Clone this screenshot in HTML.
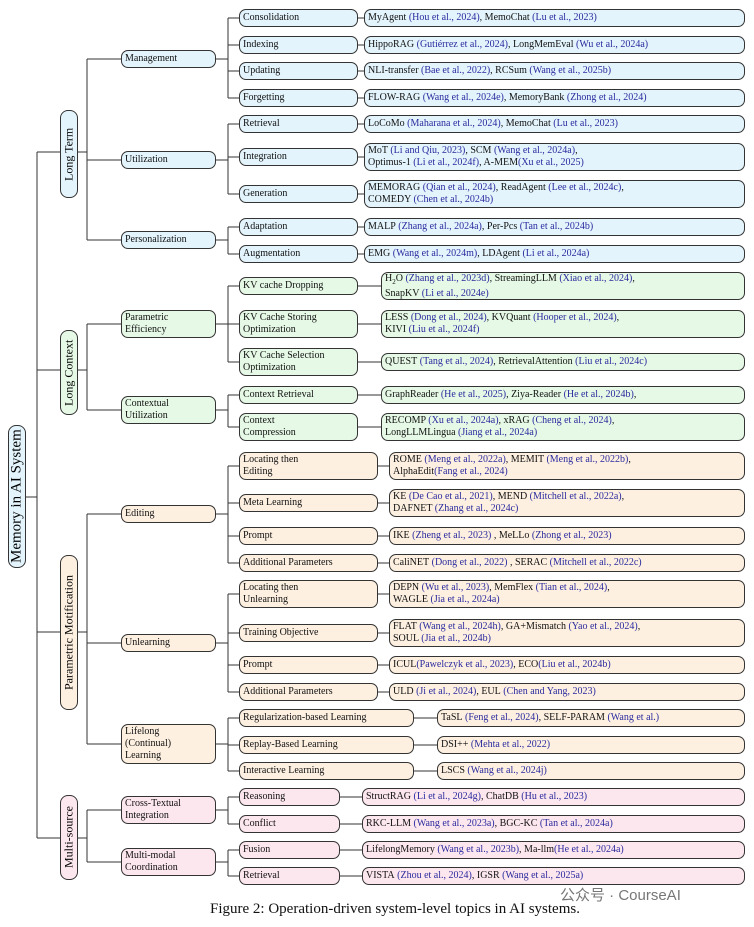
<!DOCTYPE html>
<html><head><meta charset="utf-8"><style>
body{margin:0;width:754px;height:927px;background:#fff;position:relative;overflow:hidden;font-family:"Liberation Serif",serif;}
.b{position:absolute;border:1px solid #333;border-radius:7px;font-size:10px;line-height:12px;padding:2px 3px;box-sizing:border-box;color:#111;white-space:nowrap;display:flex;align-items:center;}
.h1{height:18px}.h2{height:28px}
.bl{background:#e3f4fc}.gr{background:#e6f9e6}.or{background:#fdf0e1}.pk{background:#fde7ee}
.c{color:#2a2a9e}
.v{position:absolute;border:1px solid #333;border-radius:8px;box-sizing:border-box;writing-mode:vertical-rl;transform:rotate(180deg);display:flex;align-items:center;justify-content:center;font-size:12px;white-space:nowrap;}
svg{position:absolute;left:0;top:0}
</style></head><body>
<svg width="754" height="927" stroke="#333" stroke-width="1" fill="none">
<path d="M26 497H37M37 152V838M37 152H60M37 370H60M37 632H60M37 838H60"/>
<path d="M78 152H87M87 59V240M87 59H121M87 160H121M87 240H121"/>
<path d="M78 370H87M87 324V410M87 324H121M87 410H121"/>
<path d="M78 632H87M87 514V744M87 514H121M87 643H121M87 744H121"/>
<path d="M78 838H87M87 810V862M87 810H121M87 862H121"/>
<path d="M216 59H228M228 18V98M228 18H239M228 45H239M228 71H239M228 98H239"/>
<path d="M216 160H228M228 124V194M228 124H239M228 157H239M228 194H239"/>
<path d="M216 240H228M228 227V254M228 227H239M228 254H239"/>
<path d="M216 324H228M228 286V362M228 286H239M228 324H239M228 362H239"/>
<path d="M216 410H228M228 395V427M228 395H239M228 427H239"/>
<path d="M216 514H228M228 466V563M228 466H239M228 503H239M228 536H239M228 563H239"/>
<path d="M216 643H228M228 594V692M228 594H239M228 633H239M228 665H239M228 692H239"/>
<path d="M216 744H228M228 718V771M228 718H239M228 745H239M228 771H239"/>
<path d="M216 810H228M228 797V824M228 797H239M228 824H239"/>
<path d="M216 862H228M228 850V876M228 850H239M228 876H239"/>
<path d="M358 18H364M358 45H364M358 71H364M358 98H364M358 124H364M358 157H364M358 194H364M358 227H364M358 254H364"/>
<path d="M358 286H381M358 324H381M358 362H381M358 395H381M358 427H381"/>
<path d="M378 466H389M378 503H389M378 536H389M378 563H389M378 594H389M378 633H389M378 665H389M378 692H389"/>
<path d="M414 718H437M414 745H437M414 771H437"/>
<path d="M340 797H362M340 824H362M340 850H362M340 876H362"/>
</svg>

<div class="v bl" style="left:8px;top:425px;width:18px;height:143px;font-size:15px">Memory in AI System</div>
<div class="v bl" style="left:60px;top:110px;width:18px;height:88px">Long Term</div>
<div class="v gr" style="left:60px;top:330px;width:18px;height:85px">Long Context</div>
<div class="v or" style="left:60px;top:555px;width:18px;height:155px">Parametric Motification</div>
<div class="v pk" style="left:60px;top:795px;width:18px;height:85px">Multi-source</div>

<div class="b h1 bl" style="left:121px;top:50px;width:95px">Management</div>
<div class="b h1 bl" style="left:121px;top:151px;width:95px">Utilization</div>
<div class="b h1 bl" style="left:121px;top:231px;width:95px">Personalization</div>
<div class="b h2 gr" style="left:121px;top:310px;width:95px">Parametric<br>Efficiency</div>
<div class="b h2 gr" style="left:121px;top:396px;width:95px">Contextual<br>Utilization</div>
<div class="b h1 or" style="left:121px;top:505px;width:95px">Editing</div>
<div class="b h1 or" style="left:121px;top:634px;width:95px">Unlearning</div>
<div class="b or" style="left:121px;top:724px;width:95px;height:40px">Lifelong<br>(Continual)<br>Learning</div>
<div class="b h2 pk" style="left:121px;top:796px;width:95px">Cross-Textual<br>Integration</div>
<div class="b h2 pk" style="left:121px;top:848px;width:95px">Multi-modal<br>Coordination</div>

<div class="b h1 bl" style="left:239px;top:9px;width:119px">Consolidation</div>
<div class="b h1 bl" style="left:239px;top:36px;width:119px">Indexing</div>
<div class="b h1 bl" style="left:239px;top:62px;width:119px">Updating</div>
<div class="b h1 bl" style="left:239px;top:89px;width:119px">Forgetting</div>
<div class="b h1 bl" style="left:239px;top:115px;width:119px">Retrieval</div>
<div class="b h1 bl" style="left:239px;top:148px;width:119px">Integration</div>
<div class="b h1 bl" style="left:239px;top:185px;width:119px">Generation</div>
<div class="b h1 bl" style="left:239px;top:218px;width:119px">Adaptation</div>
<div class="b h1 bl" style="left:239px;top:245px;width:119px">Augmentation</div>

<div class="b h1 bl" style="left:364px;top:9px;width:381px">MyAgent&nbsp;<span class="c">(Hou et al., 2024)</span>, MemoChat&nbsp;<span class="c">(Lu et al., 2023)</span></div>
<div class="b h1 bl" style="left:364px;top:36px;width:381px">HippoRAG&nbsp;<span class="c">(Gutiérrez et al., 2024)</span>, LongMemEval&nbsp;<span class="c">(Wu et al., 2024a)</span></div>
<div class="b h1 bl" style="left:364px;top:62px;width:381px">NLI-transfer&nbsp;<span class="c">(Bae et al., 2022)</span>, RCSum&nbsp;<span class="c">(Wang et al., 2025b)</span></div>
<div class="b h1 bl" style="left:364px;top:89px;width:381px">FLOW-RAG&nbsp;<span class="c">(Wang et al., 2024e)</span>, MemoryBank&nbsp;<span class="c">(Zhong et al., 2024)</span></div>
<div class="b h1 bl" style="left:364px;top:115px;width:381px">LoCoMo&nbsp;<span class="c">(Maharana et al., 2024)</span>, MemoChat&nbsp;<span class="c">(Lu et al., 2023)</span></div>
<div class="b h2 bl" style="left:364px;top:143px;width:381px"><div>MoT <span class="c">(Li and Qiu, 2023)</span>, SCM <span class="c">(Wang et al., 2024a)</span>,<br>Optimus-1 <span class="c">(Li et al., 2024f)</span>, A-MEM<span class="c">(Xu et al., 2025)</span></div></div>
<div class="b h2 bl" style="left:364px;top:180px;width:381px"><div>MEMORAG <span class="c">(Qian et al., 2024)</span>, ReadAgent <span class="c">(Lee et al., 2024c)</span>,<br>COMEDY <span class="c">(Chen et al., 2024b)</span></div></div>
<div class="b h1 bl" style="left:364px;top:218px;width:381px">MALP&nbsp;<span class="c">(Zhang et al., 2024a)</span>, Per-Pcs&nbsp;<span class="c">(Tan et al., 2024b)</span></div>
<div class="b h1 bl" style="left:364px;top:245px;width:381px">EMG&nbsp;<span class="c">(Wang et al., 2024m)</span>, LDAgent&nbsp;<span class="c">(Li et al., 2024a)</span></div>

<div class="b h1 gr" style="left:239px;top:277px;width:119px">KV cache Dropping</div>
<div class="b h2 gr" style="left:239px;top:310px;width:119px">KV Cache Storing<br>Optimization</div>
<div class="b h2 gr" style="left:239px;top:348px;width:119px">KV Cache Selection<br>Optimization</div>
<div class="b h1 gr" style="left:239px;top:386px;width:119px">Context Retrieval</div>
<div class="b h2 gr" style="left:239px;top:413px;width:119px">Context<br>Compression</div>

<div class="b h2 gr" style="left:381px;top:272px;width:364px"><div>H<sub style="font-size:7px">2</sub>O <span class="c">(Zhang et al., 2023d)</span>, StreamingLLM <span class="c">(Xiao et al., 2024)</span>,<br>SnapKV <span class="c">(Li et al., 2024e)</span></div></div>
<div class="b h2 gr" style="left:381px;top:310px;width:364px"><div>LESS <span class="c">(Dong et al., 2024)</span>, KVQuant <span class="c">(Hooper et al., 2024)</span>,<br>KIVI <span class="c">(Liu et al., 2024f)</span></div></div>
<div class="b h1 gr" style="left:381px;top:353px;width:364px">QUEST&nbsp;<span class="c">(Tang et al., 2024)</span>, RetrievalAttention&nbsp;<span class="c">(Liu et al., 2024c)</span></div>
<div class="b h1 gr" style="left:381px;top:386px;width:364px">GraphReader&nbsp;<span class="c">(He et al., 2025)</span>, Ziya-Reader&nbsp;<span class="c">(He et al., 2024b)</span>,</div>
<div class="b h2 gr" style="left:381px;top:413px;width:364px"><div>RECOMP <span class="c">(Xu et al., 2024a)</span>, xRAG <span class="c">(Cheng et al., 2024)</span>,<br>LongLLMLingua <span class="c">(Jiang et al., 2024a)</span></div></div>

<div class="b h2 or" style="left:239px;top:452px;width:139px">Locating then<br>Editing</div>
<div class="b h1 or" style="left:239px;top:494px;width:139px">Meta Learning</div>
<div class="b h1 or" style="left:239px;top:527px;width:139px">Prompt</div>
<div class="b h1 or" style="left:239px;top:554px;width:139px">Additional Parameters</div>
<div class="b h2 or" style="left:239px;top:580px;width:139px">Locating then<br>Unlearning</div>
<div class="b h1 or" style="left:239px;top:624px;width:139px">Training Objective</div>
<div class="b h1 or" style="left:239px;top:656px;width:139px">Prompt</div>
<div class="b h1 or" style="left:239px;top:683px;width:139px">Additional Parameters</div>

<div class="b h2 or" style="left:389px;top:452px;width:356px"><div>ROME <span class="c">(Meng et al., 2022a)</span>, MEMIT <span class="c">(Meng et al., 2022b)</span>,<br>AlphaEdit<span class="c">(Fang et al., 2024)</span></div></div>
<div class="b h2 or" style="left:389px;top:489px;width:356px"><div>KE <span class="c">(De Cao et al., 2021)</span>, MEND <span class="c">(Mitchell et al., 2022a)</span>,<br>DAFNET <span class="c">(Zhang et al., 2024c)</span></div></div>
<div class="b h1 or" style="left:389px;top:527px;width:356px">IKE&nbsp;<span class="c">(Zheng et al., 2023)</span>&nbsp;, MeLLo&nbsp;<span class="c">(Zhong et al., 2023)</span></div>
<div class="b h1 or" style="left:389px;top:554px;width:356px">CaliNET&nbsp;<span class="c">(Dong et al., 2022)</span>&nbsp;, SERAC&nbsp;<span class="c">(Mitchell et al., 2022c)</span></div>
<div class="b h2 or" style="left:389px;top:580px;width:356px"><div>DEPN <span class="c">(Wu et al., 2023)</span>, MemFlex <span class="c">(Tian et al., 2024)</span>,<br>WAGLE <span class="c">(Jia et al., 2024a)</span></div></div>
<div class="b h2 or" style="left:389px;top:619px;width:356px"><div>FLAT <span class="c">(Wang et al., 2024h)</span>, GA+Mismatch <span class="c">(Yao et al., 2024)</span>,<br>SOUL <span class="c">(Jia et al., 2024b)</span></div></div>
<div class="b h1 or" style="left:389px;top:656px;width:356px">ICUL<span class="c">(Pawelczyk et al., 2023)</span>, ECO<span class="c">(Liu et al., 2024b)</span></div>
<div class="b h1 or" style="left:389px;top:683px;width:356px">ULD&nbsp;<span class="c">(Ji et al., 2024)</span>, EUL&nbsp;<span class="c">(Chen and Yang, 2023)</span></div>

<div class="b h1 or" style="left:239px;top:709px;width:175px">Regularization-based Learning</div>
<div class="b h1 or" style="left:239px;top:736px;width:175px">Replay-Based Learning</div>
<div class="b h1 or" style="left:239px;top:762px;width:175px">Interactive Learning</div>
<div class="b h1 or" style="left:437px;top:709px;width:308px">TaSL&nbsp;<span class="c">(Feng et al., 2024)</span>, SELF-PARAM&nbsp;<span class="c">(Wang et al.)</span></div>
<div class="b h1 or" style="left:437px;top:736px;width:308px">DSI++&nbsp;<span class="c">(Mehta et al., 2022)</span></div>
<div class="b h1 or" style="left:437px;top:762px;width:308px">LSCS&nbsp;<span class="c">(Wang et al., 2024j)</span></div>

<div class="b h1 pk" style="left:239px;top:788px;width:101px">Reasoning</div>
<div class="b h1 pk" style="left:239px;top:815px;width:101px">Conflict</div>
<div class="b h1 pk" style="left:239px;top:841px;width:101px">Fusion</div>
<div class="b h1 pk" style="left:239px;top:867px;width:101px">Retrieval</div>
<div class="b h1 pk" style="left:362px;top:788px;width:383px">StructRAG&nbsp;<span class="c">(Li et al., 2024g)</span>, ChatDB&nbsp;<span class="c">(Hu et al., 2023)</span></div>
<div class="b h1 pk" style="left:362px;top:815px;width:383px">RKC-LLM&nbsp;<span class="c">(Wang et al., 2023a)</span>, BGC-KC&nbsp;<span class="c">(Tan et al., 2024a)</span></div>
<div class="b h1 pk" style="left:362px;top:841px;width:383px">LifelongMemory&nbsp;<span class="c">(Wang et al., 2023b)</span>, Ma-llm<span class="c">(He et al., 2024a)</span></div>
<div class="b h1 pk" style="left:362px;top:867px;width:383px">VISTA&nbsp;<span class="c">(Zhou et al., 2024)</span>, IGSR&nbsp;<span class="c">(Wang et al., 2025a)</span></div>

<div style="position:absolute;left:0;width:790px;top:901px;text-align:center;font-size:15px;color:#111">Figure 2: Operation-driven system-level topics in AI systems.</div>
<div style="position:absolute;left:560px;top:884px;font-family:'Liberation Sans','Noto Sans CJK SC',sans-serif;font-size:15px;color:#777">公众号 · CourseAI</div>
</body></html>
